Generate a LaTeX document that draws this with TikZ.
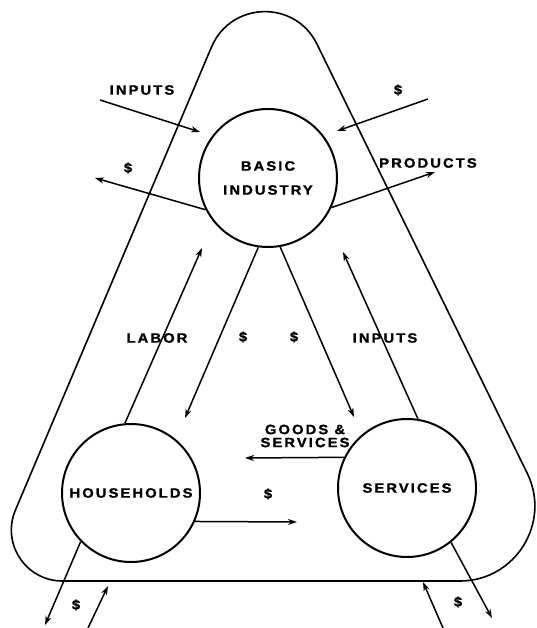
\documentclass[tikz,border=0pt]{standalone}
\usepackage{fontspec}
\newfontfamily\lblfont{Liberation Sans}[FakeStretch=1.1,LetterSpace=15,BoldFeatures={FakeBold=1.2}]
\usetikzlibrary{arrows.meta}
\tikzset{
  lbl/.style={font=\fontsize{13.5}{13}\lblfont\bfseries, inner sep=0pt, align=center},
  circ/.style={draw, circle, line width=2pt, minimum size=138pt, inner sep=0pt, align=center,
    font=\fontsize{13.5}{24}\lblfont\bfseries},
  flow/.style={line width=1.5pt, -{Stealth[length=9pt,width=6pt]}},
  outline/.style={line width=1.6pt}
}
\begin{document}
\begin{tikzpicture}[x=1pt,y=-1pt]
\useasboundingbox (0,0) rectangle (536,628);
% rounded triangle
\draw[outline] (211.5,47) .. controls (230.9,1.3) and (295.0,-0.6) .. (316.9,44)
  -- (527.2,473.2) .. controls (551.5,522.8) and (515.2,581) .. (460,581)
  -- (62.4,581) .. controls (25.9,581) and (1.2,543.7) .. (15.4,510.1) -- cycle;
% circles
\node[circ] (bi) at (268,178) {BASIC\\INDUSTRY};
\node[circ] (hh) at (131,493) {HOUSEHOLDS};
\node[circ] (sv) at (407,488) {SERVICES};
% free ends
\coordinate (inS) at (100,100); \coordinate (inE) at (200,132);
\coordinate (dS) at (428,99);  \coordinate (dE) at (337,131);
\coordinate (dL) at (95,178);
\coordinate (prE) at (435,172);
\coordinate (hhE) at (185,418);
\coordinate (svE) at (354,417);
\coordinate (labE) at (202,248);
\coordinate (inpE) at (343,252);
\coordinate (gsE) at (245,458);
\coordinate (hdE) at (297,522);
\coordinate (blE) at (45,625);
\coordinate (brE) at (492,618);
\coordinate (biS) at (88,628); \coordinate (biE) at (108,586);
\coordinate (birS) at (443,628); \coordinate (birE) at (423,582);
% arrows
\draw[flow] (inS) -- (inE);
\draw[flow] (dS) -- (dE);
\draw[flow] (bi.207) -- (dL);
\draw[flow] (bi.335) -- (prE);
\draw[flow] (bi.262) -- (hhE);
\draw[flow] (bi.280) -- (svE);
\draw[flow] (hh.95) -- (labE);
\draw[flow] (sv.81.5) -- (inpE);
\draw[flow] (sv.154.2) -- (gsE);
\draw[flow] (hh.336.3) -- (hdE);
\draw[flow] (hh.224.4) -- (blE);
\draw[flow] (sv.309.3) -- (brE);
\draw[flow] (biS) -- (biE);
\draw[flow] (birS) -- (birE);
% labels
\node[lbl] (l1) at (142,90) {INPUTS};
\node[lbl] (l2) at (398,90) {\$};
\node[lbl] (l3) at (128,168) {\$};
\node[lbl] (l4) at (428,163) {PRODUCTS};
\node[lbl] (l5) at (157,338) {LABOR};
\node[lbl] (l6) at (243,337) {\$};
\node[lbl] (l7) at (294,337) {\$};
\node[lbl] (l8) at (385,338) {INPUTS};
\node[lbl] (l9) at (305,436) {GOODS \&\\SERVICES};
\node[lbl] (l10) at (268,494) {\$};
\node[lbl] (l11) at (76,605) {\$};
\node[lbl] (l12) at (458,602) {\$};
\end{tikzpicture}
\end{document}
